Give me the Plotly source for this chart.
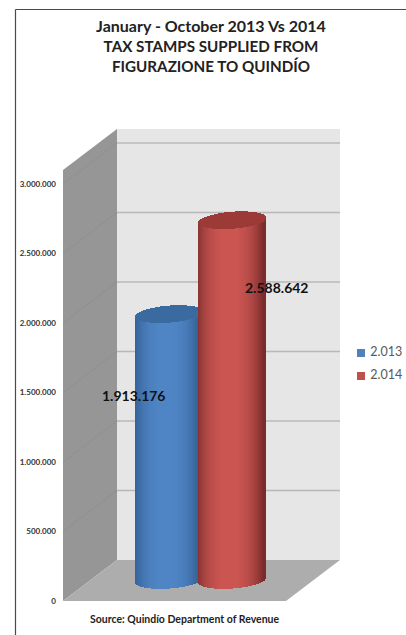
import numpy as np
import plotly.graph_objects as go

# ---- data ----
series = ["2.013", "2.014"]
values = [1913176, 2588642]
value_labels = ["1.913.176", "2.588.642"]
tick_vals = [0, 500000, 1000000, 1500000, 2000000, 2500000, 3000000]
tick_text = ["0", "500.000", "1.000.000", "1.500.000", "2.000.000", "2.500.000", "3.000.000"]
title_lines = ["January - October 2013 Vs 2014", "TAX STAMPS SUPPLIED FROM", "FIGURAZIONE TO QUINDÍO"]
source_text = "Source: Quindío Department of Revenue"

# ---- styling / geometry ----
W, H = 406, 635
FONT = "Lato"
U = 3000000 / 417           # value units per pixel on the y axis
X0 = 63                     # left edge of the plot area (front of the side wall)
DX, DY = 54, 41 * U         # 3-D depth of the box
FRONT_W = 223
WALL_TOP = 3100000
CYL_SHIFT = 21 * U          # cylinders stand mid-depth
CAP = 8.5 * U               # half height of an ellipse
TILT = 2.5 * U              # rims rise slightly to the right
cyl_spans = [(136, 203), (199, 266)]
edge_cols = [np.array([48, 90, 142]), np.array([122, 44, 44])]
mid_cols = [np.array([80, 134, 198]), np.array([204, 86, 82])]
cap_cols = [np.array([58, 106, 160]), np.array([156, 58, 56])]
label_pos = [(134, 1475000), (277, 2258000)]
legend_y = [(601 - 353) * U, (601 - 376) * U]

fig = go.Figure()


def poly(xs, ys, fill):
    path = "M " + " L ".join(f"{x},{y}" for x, y in zip(xs, ys)) + " Z"
    return dict(type="path", path=path, fillcolor=fill, line=dict(width=0), layer="below", xref="x", yref="y")


def line(x0, y0, x1, y1, color, width=1):
    return dict(type="line", x0=x0, y0=y0, x1=x1, y1=y1, xref="x", yref="y",
                line=dict(color=color, width=width), layer="below")


shapes = [
    # back wall, side wall, floor
    poly([X0 + DX, X0 + DX + FRONT_W, X0 + DX + FRONT_W, X0 + DX],
         [DY, DY, WALL_TOP + DY, WALL_TOP + DY], "#E6E6E6"),
    poly([X0, X0 + DX, X0 + DX, X0], [0, DY, WALL_TOP + DY, WALL_TOP], "#969696"),
    poly([X0, X0 + FRONT_W, X0 + FRONT_W + DX, X0 + DX], [0, 0, DY, DY], "#ADADAD"),
]
for t in tick_vals[1:]:
    shapes.append(line(X0 + DX, t + DY, X0 + DX + FRONT_W, t + DY, "#B8B8B8", 1.3))
    shapes.append(line(X0, t, X0 + DX, t + DY, "#8E8E8E", 0.8))
# image frame
FRAME_TOP = 1 - 9.5 / H
shapes.append(dict(type="line", xref="paper", yref="paper", x0=15.5 / W, x1=15.5 / W, y0=0, y1=FRAME_TOP,
                   line=dict(color="#4A4A4A", width=1.2)))
shapes.append(dict(type="line", xref="paper", yref="paper", x0=15.5 / W, x1=1, y0=FRAME_TOP, y1=FRAME_TOP,
                   line=dict(color="#4A4A4A", width=1.2)))

# ---- cylinders, drawn as thin bars so they carry a horizontal gradient ----
N = 70
for i, (name, val) in enumerate(zip(series, values)):
    x0, x1 = cyl_spans[i]
    w = (x1 - x0) / N
    xs = x0 + w * (np.arange(N) + 0.5)
    t = (xs - (x0 + x1) / 2) / ((x1 - x0) / 2)
    ell = CAP * np.sqrt(np.clip(1 - t ** 2, 0, 1))
    rim = TILT * t
    shade = np.clip(1 - np.abs(t + 0.08) ** 2.6, 0, 1)
    cols = [f"rgb({','.join(str(int(c)) for c in edge_cols[i] + (mid_cols[i] - edge_cols[i]) * s)})" for s in shade]
    fig.add_trace(go.Bar(x=xs, y=[val] * N, base=CYL_SHIFT - ell + rim, width=w * 1.25,
                         marker=dict(color=cols, line=dict(width=0)), name=name, showlegend=False, hoverinfo="skip"))
    cap_col = f"rgb({','.join(str(int(c)) for c in cap_cols[i])})"
    fig.add_trace(go.Bar(x=xs, y=2 * ell, base=val + CYL_SHIFT - ell + rim, width=w * 1.25,
                         marker=dict(color=cap_col, line=dict(width=0)), showlegend=False, hoverinfo="skip"))

# ---- legend ----
fig.add_trace(go.Scatter(x=[361, 361], y=legend_y, mode="markers+text", text=["\u00a0" + s for s in series],
                         textposition="middle right",
                         textfont=dict(family=FONT, size=12.5, color="#595959"),
                         marker=dict(symbol="square", size=8, color=["#4F81BD", "#C0504D"]),
                         showlegend=False, hoverinfo="skip"))

# ---- value labels ----
for (lx, ly), txt in zip(label_pos, value_labels):
    fig.add_annotation(x=lx, y=ly, xref="x", yref="y", text=f"<b>{txt}</b>", showarrow=False,
                       font=dict(family=FONT, size=14, color="#111111"))

fig.add_annotation(x=184 / W, y=1 - 627 / H, xref="paper", yref="paper", text=f"<b>{source_text}</b>",
                   showarrow=False, font=dict(family=FONT, size=10.5, color="#222222"))

title_html = (f'<span style="font-size:16px">{title_lines[0]}</span><br>'
              f'{title_lines[1]}<br>{title_lines[2]}')
fig.update_layout(
    width=W, height=H, margin=dict(l=0, r=0, t=0, b=0), paper_bgcolor="white", plot_bgcolor="white",
    barmode="overlay", bargap=0, showlegend=False, shapes=shapes,
    title=dict(text="<b>" + title_html + "</b>", x=211 / W, xanchor="center", xref="paper",
               y=1 - 32 / H, yanchor="top", yref="paper", font=dict(family=FONT, size=15.2, color="#222222")),
    xaxis=dict(domain=[X0 / W, 1], range=[X0, W], visible=False, fixedrange=True),
    yaxis=dict(domain=[0, 1], range=[-34 * U, 601 * U], tickvals=tick_vals, ticktext=tick_text,
               showgrid=False, zeroline=False, showline=False, ticks="", ticklabelstandoff=6,
               tickfont=dict(family=FONT, size=8, color="#333333", weight="bold"), fixedrange=True),
)

fig.write_html("out.html", post_script="document.body.style.margin='0';", config=dict(displayModeBar=False))
